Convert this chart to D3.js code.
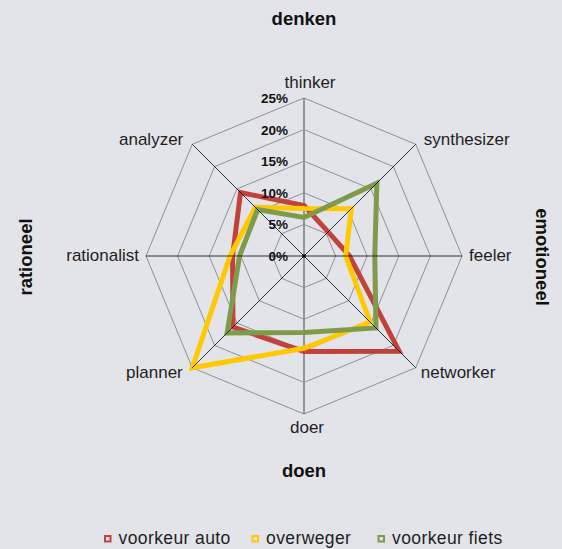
<!DOCTYPE html>
<html>
<head>
<meta charset="utf-8">
<script src="https://cdn.jsdelivr.net/npm/d3@7"></script>
<style>
    html, body { margin: 0; padding: 0; background: #e3e4e9; }
    svg { display: block; font-family: "Liberation Sans", Arial, sans-serif; }
</style>
</head>
<body>
<svg id="radar" width="562" height="549"></svg>
<script>
// values in percent
const categories = ["thinker", "synthesizer", "feeler", "networker", "doer", "planner", "rationalist", "analyzer"];
const voorkeurAuto = [8.0, 5.4, 7.2, 21.3, 15.1, 15.9, 11.3, 14.2];
const overweger = [7.5, 10.6, 6.6, 14.8, 14.6, 25.0, 11.7, 10.9];
const voorkeurFiets = [6.1, 16.3, 11.2, 16.1, 12.1, 17.2, 10.2, 10.4];
const seriesNames = ["voorkeur auto", "overweger", "voorkeur fiets"];
const tickValues = [0, 5, 10, 15, 20, 25];
const tickLabels = ["0%", "5%", "10%", "15%", "20%", "25%"];

document.addEventListener('DOMContentLoaded', () => {
    const svg = d3.select("#radar");
    const cx = 304, cy = 256;
    const colors = ["#c1423b", "#ffc800", "#7d9b4a"];
    const allSeries = [voorkeurAuto, overweger, voorkeurFiets];

    const r = d3.scaleLinear().domain([0, 25]).range([0, 158]);
    const angle = d3.scalePoint().domain(categories).range([0, 2 * Math.PI * 7 / 8]);

    const pt = (cat, v) => {
        const a = angle(cat);
        return [cx + r(v) * Math.sin(a), cy - r(v) * Math.cos(a)];
    };

    const g = svg.append("g");

    // --- 1. Rings (octagons) ---
    tickValues.slice(1).forEach(t => {
        g.append("polygon")
            .attr("points", categories.map(c => pt(c, t).join(",")).join(" "))
            .attr("fill", "none")
            .attr("stroke", "#7a7a7a")
            .attr("stroke-width", 0.8);
    });

    // vertical value axis sits below the series
    g.append("line")
        .attr("x1", cx).attr("y1", pt("doer", 25)[1])
        .attr("x2", cx).attr("y2", pt("thinker", 25)[1])
        .attr("stroke", "#8c8c8c")
        .attr("stroke-width", 1.8);

    // --- 2. Series ---
    const line = d3.line().curve(d3.curveLinearClosed);
    allSeries.forEach((vals, i) => {
        g.append("path")
            .attr("d", line(categories.map((c, k) => pt(c, vals[k]))))
            .attr("fill", "none")
            .attr("stroke", colors[i])
            .attr("stroke-width", 5)
            .attr("stroke-linejoin", "miter");
    });

    // --- 3. Other spokes on top ---
    categories.forEach(c => {
        if (c === "thinker" || c === "doer") return;
        const p = pt(c, 25);
        g.append("line")
            .attr("x1", cx).attr("y1", cy)
            .attr("x2", p[0]).attr("y2", p[1])
            .attr("stroke", "#1e1e1e")
            .attr("stroke-width", 0.9);
    });
    g.append("circle").attr("cx", cx).attr("cy", cy).attr("r", 2).attr("fill", "#111");

    // --- 4. Tick labels ---
    tickValues.forEach((t, i) => {
        g.append("text")
            .attr("x", 288)
            .attr("y", cy - r(t) + 5)
            .attr("text-anchor", "end")
            .attr("font-size", "13.5px")
            .attr("font-weight", "bold")
            .attr("fill", "#111")
            .text(tickLabels[i]);
    });

    // --- 5. Category labels ---
    // offsets from the outer point: [dx, dy, anchor]
    const labelPos = [
        [6, -10, "middle"], [8, 1, "start"], [7, 5, "start"], [5, 10, "start"],
        [3, 19, "middle"], [-9.5, 10, "end"], [-7, 5, "end"], [-9, 1, "end"]
    ];
    categories.forEach((c, i) => {
        const p = pt(c, 25);
        g.append("text")
            .attr("x", p[0] + labelPos[i][0])
            .attr("y", p[1] + labelPos[i][1])
            .attr("text-anchor", labelPos[i][2])
            .attr("font-size", "17px")
            .attr("fill", "#1e1e1e")
            .text(c);
    });

    // --- 6. Quadrant titles ---
    const title = (txt, x, y, rot) => {
        svg.append("text")
            .attr("transform", `translate(${x},${y}) rotate(${rot})`)
            .attr("text-anchor", "middle")
            .attr("font-size", "18.5px")
            .attr("font-weight", "bold")
            .attr("fill", "#111")
            .text(txt);
    };
    title("denken", 304, 25, 0);
    title("doen", 304, 477, 0);
    title("rationeel", 31.5, 257, -90);
    title("emotioneel", 536, 257, 90);

    // --- 7. Legend ---
    const legendX = [104, 251.5, 377.5];
    seriesNames.forEach((name, i) => {
        svg.append("rect")
            .attr("x", legendX[i] + 1).attr("y", 536)
            .attr("width", 5.5).attr("height", 5.5)
            .attr("fill", "none")
            .attr("stroke", colors[i])
            .attr("stroke-width", 2);
        svg.append("text")
            .attr("x", legendX[i] + 14.5)
            .attr("y", 543.5)
            .attr("font-size", "17.5px")
            .attr("letter-spacing", "0.4px")
            .attr("fill", "#1e1e1e")
            .text(name);
    });
});
</script>
</body>
</html>
